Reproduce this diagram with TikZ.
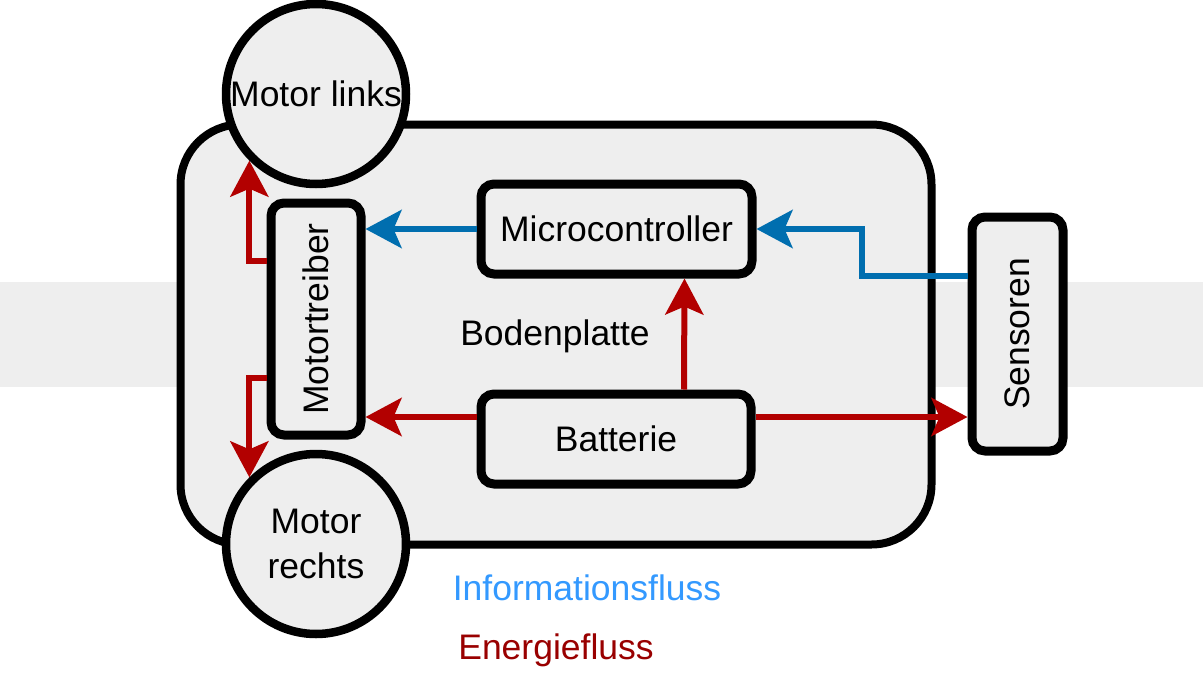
\documentclass[tikz,border=0pt]{standalone}
\usepackage{fontspec}
\setmainfont{Liberation Sans}
\usepackage{graphicx}
\usetikzlibrary{arrows.meta,calc}
\definecolor{fillgray}{HTML}{EEEEEE}
\definecolor{infoblue}{HTML}{006EAF}
\definecolor{energyred}{HTML}{B20000}
\definecolor{infotext}{HTML}{3399FF}
\definecolor{energytext}{HTML}{990000}
\tikzset{
  txt/.style={font=\fontsize{35.5}{45}\selectfont, text=black},
  plate/.style={draw=black, fill=fillgray, line width=8pt, rounded corners=60pt, inner sep=0pt},
  box/.style={txt, draw=black, fill=fillgray, line width=9pt, rounded corners=13pt, inner sep=0pt},
  motor/.style={txt, circle, draw=black, fill=fillgray, line width=8.5pt, minimum size=180pt, inner sep=0pt, align=center},
  flow/.style={line width=6pt, -{Stealth[length=36pt,width=38pt,inset=8pt]}},
  infoflow/.style={flow, draw=infoblue, color=infoblue},
  energyflow/.style={flow, draw=energyred, color=energyred},
}
\begin{document}
\begin{tikzpicture}[x=1pt,y=-1pt]
\useasboundingbox (0,0) rectangle (1203,696);
\fill[fillgray] (0,282) rectangle (1203,387);
\node[plate, minimum width=751pt, minimum height=420pt] (plate) at (556,334.5) {};
\node[motor] (ml) at (316,94) {Motor links};
\node[motor] (mr) at (316,544) {Motor\\rechts};
\node[box, minimum width=90pt, minimum height=232pt] (mt) at (316,319) {\rotatebox{90}{Motortreiber}};
\node[box, minimum width=271pt, minimum height=90pt] (mc) at (616.5,229) {Microcontroller};
\node[box, minimum width=270pt, minimum height=90pt] (ba) at (616,439) {Batterie};
\node[box, minimum width=91pt, minimum height=234pt] (se) at (1017.5,334) {\rotatebox{90}{Sensoren}};
\node[txt, anchor=base] (bodenplatte) at (555,345) {Bodenplatte};
\node[txt, anchor=base, text=infotext] (info) at (587,600) {Informationsfluss};
\node[txt, anchor=base, text=energytext] (energy) at (556,659) {Energiefluss};
% connectors
\coordinate (s1) at ([yshift=58pt]se.west);
\coordinate (k) at (862,276);
\coordinate (b1) at ([yshift=22pt]ba.west);
\coordinate (b2) at ([yshift=22pt]ba.east);
\draw[infoflow] (mc.west) -- (mc.west -| mt.east);
\draw[infoflow] (s1) -- (k) |- (mc.east);
\draw[energyflow] ([xshift=68pt]ba.north) -- ([xshift=68pt]mc.south);
\draw[energyflow] (b1) -- (b1 -| mt.east);
\draw[energyflow] (b2) -- (b2 -| se.west);
\draw[energyflow] ([yshift=58pt]mt.west) -| (ml.-135);
\draw[energyflow] ([yshift=-58.5pt]mt.west) -| (mr.135);
\end{tikzpicture}
\end{document}
